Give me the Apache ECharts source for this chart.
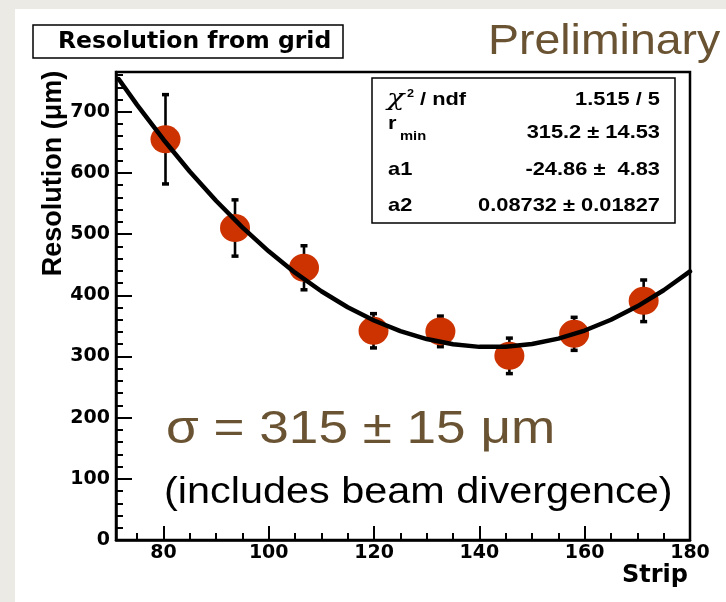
<!DOCTYPE html>
<html>
<head>
<meta charset="utf-8">
<script src="https://cdn.jsdelivr.net/npm/echarts@6/dist/echarts.min.js"></script>
<style>
html,body{margin:0;padding:0;background:#ebeae5;}
#c{width:726px;height:602px;}
</style>
</head>
<body>
<div id="c"></div>
<script>
// ---- data ----
const strips = [80.4, 93.6, 106.7, 119.9, 132.6, 145.7, 158.0, 171.2];
const resolution = [655, 510, 445, 342, 341, 301, 337, 391];
const resolutionErr = [73, 46, 36, 28, 25, 29, 27, 34];

const fitStrip = [71.5, 75, 80, 85, 90, 95, 100, 105, 110, 115, 120, 125, 130, 135, 140, 145, 150, 155, 160, 165, 170, 175, 180];
const fitResolution = [753.5, 711.3, 654.7, 602.4, 554.5, 511.0, 471.8, 437.0, 406.6, 380.5, 358.8, 341.5, 328.5, 319.9, 315.7, 315.8, 320.3, 329.2, 342.4, 360.0, 382.0, 408.3, 439.0];

const xMajorTicks = [80, 100, 120, 140, 160, 180];
const xMinorTicks = [75, 80, 85, 90, 95, 100, 105, 110, 115, 120, 125, 130, 135, 140, 145, 150, 155, 160, 165, 170, 175, 180];
const yMajorTicks = [0, 100, 200, 300, 400, 500, 600, 700];
const yMinorTicks = [0, 20, 40, 60, 80, 100, 120, 140, 160, 180, 200, 220, 240, 260, 280, 300, 320, 340, 360, 380, 400, 420, 440, 460, 480, 500, 520, 540, 560, 580, 600, 620, 640, 660, 680, 700, 720, 740, 760];

const statValues = ['1.515 / 5', '315.2 \u00b1 14.53', '-24.86 \u00b1  4.83', '0.08732 \u00b1 0.01827'];

// ---- chart ----
const chart = echarts.init(document.getElementById('c'), null, {renderer: 'canvas', width: 726, height: 602});
const brown = '#6a5332';
const labelFont = 'DejaVu Sans';
const helv = 'Liberation Sans';

function gtext(x, y, text, size, opts) {
  opts = opts || {};
  const align = opts.align || 'left';
  return {
    type: 'text', x: x, y: y, z: opts.z || 20, silent: true,
    scaleX: opts.scaleX || 1, scaleY: 1,
    style: {
      text: text, fill: opts.color || '#000',
      fontSize: size, fontFamily: opts.family || helv, fontWeight: opts.weight || 'normal',
      fontStyle: opts.style || 'normal',
      align: align, verticalAlign: 'middle', textAlign: align, textVerticalAlign: 'middle'
    }
  };
}

const statRowsY = [100, 133.4, 169.5, 206.3];
const statSize = 18.5, statScale = 1.18;

const graphics = [
  {type: 'rect', z: -10, silent: true, shape: {x: 15, y: 9, width: 711, height: 593}, style: {fill: '#ffffff'}},
  gtext(488, 41.7, 'Preliminary', 43, {color: brown, scaleX: 1.08}),
  {type: 'rect', z: 15, silent: true, shape: {x: 372, y: 78, width: 303, height: 145}, style: {fill: '#ffffff', stroke: '#000', lineWidth: 1.5}},
  gtext(387, 99, '\u03c7', 23, {scaleX: 1.25, style: 'italic', family: 'DejaVu Serif'}),
  gtext(407, 94, '2', 11.5, {weight: 'bold', scaleX: 1.1}),
  gtext(420, statRowsY[0], '/ ndf', statSize, {weight: 'bold', scaleX: statScale}),
  gtext(388, 124.2, 'r', statSize, {weight: 'bold', scaleX: statScale}),
  gtext(400, 136.6, 'min', 12.5, {weight: 'bold', scaleX: statScale}),
  gtext(388, statRowsY[2], 'a1', statSize, {weight: 'bold', scaleX: statScale}),
  gtext(388, statRowsY[3], 'a2', statSize, {weight: 'bold', scaleX: statScale})
];
statValues.forEach(function (v, i) {
  graphics.push(gtext(660, statRowsY[i], v, statSize, {weight: 'bold', scaleX: statScale, align: 'right'}));
});
graphics.push(gtext(166, 430.3, '\u03c3 = 315 \u00b1 15 \u03bcm', 47, {color: brown, scaleX: 1.13}));
graphics.push(gtext(164, 493.4, '(includes beam divergence)', 36, {color: '#000', scaleX: 1.15}));

const errData = strips.map(function (s, i) { return [s, resolution[i], resolutionErr[i]]; });
const pointData = strips.map(function (s, i) { return [s, resolution[i]]; });
const fitData = fitStrip.map(function (s, i) { return [s, fitResolution[i]]; });

const axisLabelStyle = {fontFamily: labelFont, fontWeight: 'bold', fontSize: 19, color: '#000'};

const option = {
  animation: false,
  backgroundColor: 'transparent',
  title: {
    text: 'Resolution from grid',
    left: 33, top: 25,
    padding: [5, 12, 4, 25],
    borderColor: '#000', borderWidth: 1.5, backgroundColor: '#fff',
    textStyle: {fontFamily: labelFont, fontWeight: 'bold', fontSize: 23.5, lineHeight: 24, color: '#000'}
  },
  grid: {
    left: 116, right: 36, top: 72, bottom: 62,
    show: true, borderColor: '#000', borderWidth: 2.5, backgroundColor: 'transparent',
    containLabel: false, outerBoundsMode: 'none'
  },
  xAxis: [
    {
      type: 'value', min: 71, max: 180, position: 'bottom',
      name: 'Strip', nameLocation: 'end', nameGap: -68, nameMoveOverlap: false,
      nameTextStyle: {fontFamily: labelFont, fontWeight: 'bold', fontSize: 24, lineHeight: 24, color: '#000', verticalAlign: 'top', padding: [24, 0, 0, 0]},
      axisLine: {show: true, lineStyle: {color: '#000', width: 2.5}},
      axisTick: {show: true, inside: true, length: 14, customValues: xMajorTicks, lineStyle: {color: '#000', width: 2}},
      axisLabel: Object.assign({show: true, margin: 4, customValues: xMajorTicks}, axisLabelStyle),
      splitLine: {show: false}
    },
    {
      type: 'value', min: 71, max: 180, position: 'bottom', offset: 0,
      axisLine: {show: false},
      axisTick: {show: true, inside: true, length: 7, customValues: xMinorTicks, lineStyle: {color: '#000', width: 2}},
      axisLabel: {show: false},
      splitLine: {show: false}
    }
  ],
  yAxis: [
    {
      type: 'value', min: 0, max: 765, position: 'left',
      name: 'Resolution (\u03bcm)', nameLocation: 'middle', nameRotate: 90, nameGap: 49, nameMoveOverlap: false,
      nameTextStyle: {fontFamily: helv, fontWeight: 'bold', fontSize: 27, lineHeight: 27, color: '#000', padding: [0, 0, 0, 265]},
      axisLine: {show: true, lineStyle: {color: '#000', width: 2.5}},
      axisTick: {show: true, inside: true, length: 16, customValues: yMajorTicks, lineStyle: {color: '#000', width: 2}},
      axisLabel: Object.assign({show: true, margin: 6, customValues: yMajorTicks}, axisLabelStyle),
      splitLine: {show: false}
    },
    {
      type: 'value', min: 0, max: 765, position: 'left', offset: 0,
      axisLine: {show: false},
      axisTick: {show: true, inside: true, length: 7, customValues: yMinorTicks, lineStyle: {color: '#000', width: 2}},
      axisLabel: {show: false},
      splitLine: {show: false}
    }
  ],
  graphic: {elements: graphics},
  series: [
    {
      type: 'custom', name: 'error', xAxisIndex: 0, yAxisIndex: 0, z: 3,
      data: errData,
      encode: {x: 0, y: 1},
      renderItem: function (params, api) {
        const x = api.value(0), y = api.value(1), e = api.value(2);
        const top = api.coord([x, y + e]);
        const bot = api.coord([x, y - e]);
        const capW = 7, capH = 3.5;
        return {
          type: 'group',
          children: [
            {type: 'line', shape: {x1: top[0], y1: top[1], x2: bot[0], y2: bot[1]}, style: {stroke: '#000', lineWidth: 2.6}},
            {type: 'rect', shape: {x: top[0] - capW / 2, y: top[1] - capH / 2, width: capW, height: capH}, style: {fill: '#000'}},
            {type: 'rect', shape: {x: bot[0] - capW / 2, y: bot[1] - capH / 2, width: capW, height: capH}, style: {fill: '#000'}}
          ]
        };
      }
    },
    {
      type: 'scatter', name: 'Resolution', xAxisIndex: 0, yAxisIndex: 0, z: 4,
      data: pointData, symbol: 'circle', symbolSize: [30, 28],
      itemStyle: {color: '#cc3300', opacity: 1}
    },
    {
      type: 'line', name: 'Fit', xAxisIndex: 0, yAxisIndex: 0, z: 5,
      data: fitData, showSymbol: false, smooth: false,
      lineStyle: {color: '#000', width: 4.5, cap: 'round'},
      itemStyle: {color: '#000'}
    }
  ]
};
chart.setOption(option);
</script>
</body>
</html>
